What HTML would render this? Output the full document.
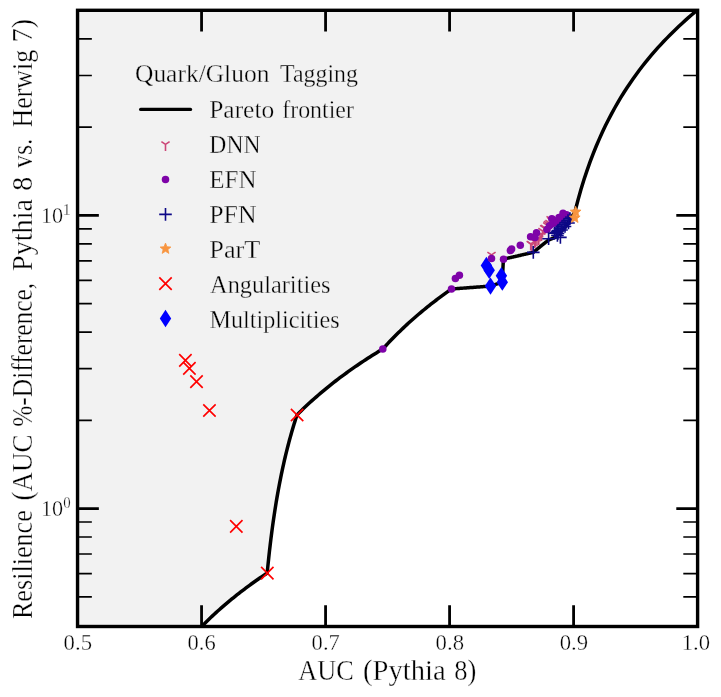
<!DOCTYPE html>
<html><head><meta charset="utf-8"><style>html,body{margin:0;padding:0;background:#fff;width:721px;height:697px;overflow:hidden}svg{display:block;will-change:transform}</style></head>
<body><svg width="721" height="697" viewBox="0 0 721 697">
<rect width="721" height="697" fill="#fff"/>
<defs><clipPath id="ax"><rect x="77.55" y="10.3" width="620.05" height="616.20"/></clipPath></defs>
<g clip-path="url(#ax)">
<path d="M77.55,10.3L77.55,631.5L196.60,631.63L198.36,629.78L200.13,627.96L201.89,626.16L203.66,624.39L205.42,622.64L207.19,620.92L208.95,619.22L210.72,617.54L212.48,615.89L214.25,614.25L216.01,612.64L217.78,611.05L219.54,609.47L221.31,607.92L223.07,606.38L224.84,604.86L226.60,603.36L228.37,601.88L230.13,600.42L231.90,598.97L233.66,597.54L235.43,596.12L237.19,594.72L238.96,593.33L240.72,591.96L242.49,590.61L244.25,589.27L246.02,587.94L247.78,586.62L249.55,585.32L251.31,584.04L253.08,582.76L254.84,581.50L256.61,580.25L258.37,579.01L260.14,577.79L261.90,576.57L263.67,575.37L265.43,574.18L267.20,573.00L267.94,565.40L268.69,558.22L269.43,551.43L270.18,544.98L270.92,538.85L271.67,532.99L272.41,527.39L273.16,522.03L273.90,516.89L274.65,511.94L275.39,507.18L276.14,502.59L276.88,498.16L277.63,493.88L278.37,489.74L279.12,485.73L279.86,481.84L280.61,478.07L281.35,474.41L282.10,470.84L282.84,467.38L283.59,464.01L284.33,460.72L285.08,457.52L285.82,454.39L286.57,451.34L287.31,448.36L288.06,445.45L288.81,442.61L289.55,439.82L290.30,437.10L291.04,434.43L291.79,431.82L292.53,429.26L293.27,426.75L294.02,424.29L294.76,421.88L295.51,419.51L296.25,417.18L297.00,414.90L299.14,412.76L301.29,410.66L303.43,408.59L305.58,406.55L307.72,404.54L309.87,402.57L312.01,400.63L314.16,398.71L316.31,396.82L318.45,394.97L320.60,393.13L322.74,391.33L324.89,389.55L327.03,387.79L329.17,386.06L331.32,384.35L333.46,382.66L335.61,381.00L337.75,379.36L339.90,377.73L342.05,376.13L344.19,374.55L346.34,372.99L348.48,371.44L350.63,369.92L352.77,368.41L354.91,366.92L357.06,365.45L359.20,364.00L361.35,362.56L363.50,361.14L365.64,359.73L367.79,358.34L369.93,356.96L372.08,355.60L374.22,354.25L376.37,352.92L378.51,351.60L380.66,350.29L382.80,349.00L384.52,347.10L386.24,345.22L387.95,343.38L389.67,341.56L391.39,339.76L393.11,337.99L394.82,336.25L396.54,334.53L398.26,332.83L399.98,331.15L401.69,329.50L403.41,327.86L405.13,326.25L406.85,324.66L408.56,323.08L410.28,321.53L412.00,320.00L413.72,318.48L415.43,316.98L417.15,315.50L418.87,314.03L420.58,312.59L422.30,311.15L424.02,309.74L425.74,308.34L427.45,306.95L429.17,305.58L430.89,304.23L432.61,302.89L434.32,301.56L436.04,300.25L437.76,298.95L439.48,297.66L441.19,296.39L442.91,295.13L444.63,293.88L446.35,292.64L448.06,291.42L449.78,290.20L451.50,289.00L452.48,288.93L453.45,288.85L454.43,288.78L455.40,288.71L456.38,288.63L457.35,288.56L458.32,288.49L459.30,288.41L460.27,288.34L461.25,288.27L462.22,288.20L463.20,288.12L464.18,288.05L465.15,287.98L466.12,287.90L467.10,287.83L468.07,287.76L469.05,287.69L470.02,287.61L471.00,287.54L471.97,287.47L472.95,287.40L473.93,287.32L474.90,287.25L475.88,287.18L476.85,287.11L477.82,287.04L478.80,286.96L479.77,286.89L480.75,286.82L481.72,286.75L482.70,286.67L483.67,286.60L484.65,286.53L485.62,286.46L486.60,286.39L487.57,286.32L488.55,286.24L489.52,286.17L490.50,286.10L490.79,286.00L491.09,285.90L491.38,285.80L491.68,285.70L491.97,285.60L492.27,285.50L492.56,285.40L492.86,285.30L493.15,285.20L493.45,285.10L493.74,285.00L494.04,284.90L494.33,284.80L494.63,284.70L494.92,284.60L495.22,284.51L495.51,284.41L495.81,284.31L496.10,284.21L496.40,284.11L496.69,284.01L496.99,283.91L497.28,283.81L497.58,283.72L497.88,283.62L498.17,283.52L498.46,283.42L498.76,283.32L499.06,283.22L499.35,283.13L499.64,283.03L499.94,282.93L500.23,282.83L500.53,282.73L500.82,282.64L501.12,282.54L501.41,282.44L501.71,282.34L502.00,282.25L502.30,282.15L502.33,281.52L502.35,280.90L502.38,280.28L502.41,279.66L502.44,279.04L502.47,278.43L502.49,277.82L502.52,277.22L502.55,276.61L502.57,276.01L502.60,275.42L502.63,274.82L502.66,274.23L502.68,273.64L502.71,273.05L502.74,272.47L502.77,271.89L502.80,271.31L502.82,270.73L502.85,270.16L502.88,269.59L502.90,269.02L502.93,268.45L502.96,267.89L502.99,267.33L503.02,266.77L503.04,266.21L503.07,265.66L503.10,265.11L503.12,264.56L503.15,264.02L503.18,263.47L503.21,262.93L503.23,262.39L503.26,261.85L503.29,261.32L503.32,260.78L503.35,260.25L503.37,259.73L503.40,259.20L504.15,259.03L504.90,258.85L505.64,258.68L506.39,258.50L507.14,258.33L507.88,258.16L508.63,257.98L509.38,257.81L510.13,257.64L510.88,257.47L511.62,257.29L512.37,257.12L513.12,256.95L513.87,256.78L514.61,256.61L515.36,256.44L516.11,256.27L516.85,256.09L517.60,255.92L518.35,255.75L519.10,255.58L519.85,255.42L520.59,255.25L521.34,255.08L522.09,254.91L522.83,254.74L523.58,254.57L524.33,254.40L525.08,254.23L525.82,254.07L526.57,253.90L527.32,253.73L528.07,253.56L528.82,253.40L529.56,253.23L530.31,253.06L531.06,252.90L531.80,252.73L532.55,252.57L533.30,252.40L533.68,252.08L534.06,251.76L534.44,251.44L534.82,251.12L535.20,250.80L535.58,250.48L535.96,250.16L536.34,249.84L536.72,249.53L537.10,249.21L537.48,248.90L537.86,248.58L538.24,248.27L538.62,247.96L539.00,247.65L539.38,247.34L539.76,247.03L540.14,246.72L540.52,246.41L540.90,246.10L541.28,245.79L541.66,245.49L542.04,245.18L542.42,244.88L542.80,244.57L543.18,244.27L543.56,243.97L543.94,243.67L544.32,243.37L544.70,243.07L545.08,242.77L545.46,242.47L545.84,242.17L546.22,241.87L546.60,241.57L546.98,241.28L547.36,240.98L547.74,240.69L548.12,240.39L548.50,240.10L548.69,240.02L548.88,239.94L549.06,239.86L549.25,239.79L549.44,239.71L549.62,239.63L549.81,239.55L550.00,239.47L550.19,239.40L550.37,239.32L550.56,239.24L550.75,239.16L550.94,239.08L551.12,239.01L551.31,238.93L551.50,238.85L551.69,238.77L551.88,238.70L552.06,238.62L552.25,238.54L552.44,238.46L552.62,238.39L552.81,238.31L553.00,238.23L553.19,238.15L553.37,238.08L553.56,238.00L553.75,237.92L553.94,237.85L554.12,237.77L554.31,237.69L554.50,237.61L554.69,237.54L554.88,237.46L555.06,237.38L555.25,237.31L555.44,237.23L555.62,237.15L555.81,237.08L556.00,237.00L556.25,236.71L556.50,236.43L556.75,236.14L557.00,235.86L557.25,235.57L557.50,235.29L557.75,235.01L558.00,234.72L558.25,234.44L558.50,234.16L558.75,233.88L559.00,233.60L559.25,233.32L559.50,233.04L559.75,232.76L560.00,232.49L560.25,232.21L560.50,231.93L560.75,231.66L561.00,231.38L561.25,231.11L561.50,230.83L561.75,230.56L562.00,230.29L562.25,230.01L562.50,229.74L562.75,229.47L563.00,229.20L563.25,228.93L563.50,228.66L563.75,228.39L564.00,228.13L564.25,227.86L564.50,227.59L564.75,227.32L565.00,227.06L565.25,226.79L565.50,226.53L565.75,226.26L566.00,226.00L566.22,225.64L566.44,225.28L566.66,224.92L566.88,224.56L567.10,224.20L567.32,223.85L567.54,223.49L567.76,223.14L567.98,222.79L568.20,222.43L568.42,222.08L568.64,221.73L568.86,221.38L569.08,221.04L569.30,220.69L569.52,220.34L569.74,220.00L569.96,219.65L570.18,219.31L570.40,218.97L570.62,218.62L570.84,218.28L571.06,217.94L571.28,217.60L571.50,217.27L571.72,216.93L571.94,216.59L572.16,216.26L572.38,215.92L572.60,215.59L572.82,215.26L573.04,214.92L573.26,214.59L573.48,214.26L573.70,213.93L573.92,213.61L574.14,213.28L574.36,212.95L574.58,212.63L574.80,212.30L577.87,200.44L580.94,189.59L584.01,179.60L587.08,170.33L590.15,161.69L593.22,153.60L596.29,146.00L599.36,138.82L602.43,132.02L605.50,125.57L608.57,119.43L611.64,113.58L614.71,107.98L617.78,102.61L620.85,97.47L623.92,92.52L626.99,87.76L630.06,83.17L633.13,78.74L636.20,74.46L639.27,70.32L642.34,66.31L645.41,62.42L648.48,58.64L651.55,54.98L654.62,51.42L657.69,47.95L660.76,44.58L663.83,41.29L666.90,38.09L669.97,34.96L673.04,31.91L676.11,28.93L679.18,26.02L682.25,23.17L685.32,20.39L688.39,17.67L691.46,15.00L694.53,12.39L697.60,9.83L697.6,5.300000000000001Z" fill="#f2f2f2"/>
<path d="M196.60,631.63L198.36,629.78L200.13,627.96L201.89,626.16L203.66,624.39L205.42,622.64L207.19,620.92L208.95,619.22L210.72,617.54L212.48,615.89L214.25,614.25L216.01,612.64L217.78,611.05L219.54,609.47L221.31,607.92L223.07,606.38L224.84,604.86L226.60,603.36L228.37,601.88L230.13,600.42L231.90,598.97L233.66,597.54L235.43,596.12L237.19,594.72L238.96,593.33L240.72,591.96L242.49,590.61L244.25,589.27L246.02,587.94L247.78,586.62L249.55,585.32L251.31,584.04L253.08,582.76L254.84,581.50L256.61,580.25L258.37,579.01L260.14,577.79L261.90,576.57L263.67,575.37L265.43,574.18L267.20,573.00L267.94,565.40L268.69,558.22L269.43,551.43L270.18,544.98L270.92,538.85L271.67,532.99L272.41,527.39L273.16,522.03L273.90,516.89L274.65,511.94L275.39,507.18L276.14,502.59L276.88,498.16L277.63,493.88L278.37,489.74L279.12,485.73L279.86,481.84L280.61,478.07L281.35,474.41L282.10,470.84L282.84,467.38L283.59,464.01L284.33,460.72L285.08,457.52L285.82,454.39L286.57,451.34L287.31,448.36L288.06,445.45L288.81,442.61L289.55,439.82L290.30,437.10L291.04,434.43L291.79,431.82L292.53,429.26L293.27,426.75L294.02,424.29L294.76,421.88L295.51,419.51L296.25,417.18L297.00,414.90L299.14,412.76L301.29,410.66L303.43,408.59L305.58,406.55L307.72,404.54L309.87,402.57L312.01,400.63L314.16,398.71L316.31,396.82L318.45,394.97L320.60,393.13L322.74,391.33L324.89,389.55L327.03,387.79L329.17,386.06L331.32,384.35L333.46,382.66L335.61,381.00L337.75,379.36L339.90,377.73L342.05,376.13L344.19,374.55L346.34,372.99L348.48,371.44L350.63,369.92L352.77,368.41L354.91,366.92L357.06,365.45L359.20,364.00L361.35,362.56L363.50,361.14L365.64,359.73L367.79,358.34L369.93,356.96L372.08,355.60L374.22,354.25L376.37,352.92L378.51,351.60L380.66,350.29L382.80,349.00L384.52,347.10L386.24,345.22L387.95,343.38L389.67,341.56L391.39,339.76L393.11,337.99L394.82,336.25L396.54,334.53L398.26,332.83L399.98,331.15L401.69,329.50L403.41,327.86L405.13,326.25L406.85,324.66L408.56,323.08L410.28,321.53L412.00,320.00L413.72,318.48L415.43,316.98L417.15,315.50L418.87,314.03L420.58,312.59L422.30,311.15L424.02,309.74L425.74,308.34L427.45,306.95L429.17,305.58L430.89,304.23L432.61,302.89L434.32,301.56L436.04,300.25L437.76,298.95L439.48,297.66L441.19,296.39L442.91,295.13L444.63,293.88L446.35,292.64L448.06,291.42L449.78,290.20L451.50,289.00L452.48,288.93L453.45,288.85L454.43,288.78L455.40,288.71L456.38,288.63L457.35,288.56L458.32,288.49L459.30,288.41L460.27,288.34L461.25,288.27L462.22,288.20L463.20,288.12L464.18,288.05L465.15,287.98L466.12,287.90L467.10,287.83L468.07,287.76L469.05,287.69L470.02,287.61L471.00,287.54L471.97,287.47L472.95,287.40L473.93,287.32L474.90,287.25L475.88,287.18L476.85,287.11L477.82,287.04L478.80,286.96L479.77,286.89L480.75,286.82L481.72,286.75L482.70,286.67L483.67,286.60L484.65,286.53L485.62,286.46L486.60,286.39L487.57,286.32L488.55,286.24L489.52,286.17L490.50,286.10L490.79,286.00L491.09,285.90L491.38,285.80L491.68,285.70L491.97,285.60L492.27,285.50L492.56,285.40L492.86,285.30L493.15,285.20L493.45,285.10L493.74,285.00L494.04,284.90L494.33,284.80L494.63,284.70L494.92,284.60L495.22,284.51L495.51,284.41L495.81,284.31L496.10,284.21L496.40,284.11L496.69,284.01L496.99,283.91L497.28,283.81L497.58,283.72L497.88,283.62L498.17,283.52L498.46,283.42L498.76,283.32L499.06,283.22L499.35,283.13L499.64,283.03L499.94,282.93L500.23,282.83L500.53,282.73L500.82,282.64L501.12,282.54L501.41,282.44L501.71,282.34L502.00,282.25L502.30,282.15L502.33,281.52L502.35,280.90L502.38,280.28L502.41,279.66L502.44,279.04L502.47,278.43L502.49,277.82L502.52,277.22L502.55,276.61L502.57,276.01L502.60,275.42L502.63,274.82L502.66,274.23L502.68,273.64L502.71,273.05L502.74,272.47L502.77,271.89L502.80,271.31L502.82,270.73L502.85,270.16L502.88,269.59L502.90,269.02L502.93,268.45L502.96,267.89L502.99,267.33L503.02,266.77L503.04,266.21L503.07,265.66L503.10,265.11L503.12,264.56L503.15,264.02L503.18,263.47L503.21,262.93L503.23,262.39L503.26,261.85L503.29,261.32L503.32,260.78L503.35,260.25L503.37,259.73L503.40,259.20L504.15,259.03L504.90,258.85L505.64,258.68L506.39,258.50L507.14,258.33L507.88,258.16L508.63,257.98L509.38,257.81L510.13,257.64L510.88,257.47L511.62,257.29L512.37,257.12L513.12,256.95L513.87,256.78L514.61,256.61L515.36,256.44L516.11,256.27L516.85,256.09L517.60,255.92L518.35,255.75L519.10,255.58L519.85,255.42L520.59,255.25L521.34,255.08L522.09,254.91L522.83,254.74L523.58,254.57L524.33,254.40L525.08,254.23L525.82,254.07L526.57,253.90L527.32,253.73L528.07,253.56L528.82,253.40L529.56,253.23L530.31,253.06L531.06,252.90L531.80,252.73L532.55,252.57L533.30,252.40L533.68,252.08L534.06,251.76L534.44,251.44L534.82,251.12L535.20,250.80L535.58,250.48L535.96,250.16L536.34,249.84L536.72,249.53L537.10,249.21L537.48,248.90L537.86,248.58L538.24,248.27L538.62,247.96L539.00,247.65L539.38,247.34L539.76,247.03L540.14,246.72L540.52,246.41L540.90,246.10L541.28,245.79L541.66,245.49L542.04,245.18L542.42,244.88L542.80,244.57L543.18,244.27L543.56,243.97L543.94,243.67L544.32,243.37L544.70,243.07L545.08,242.77L545.46,242.47L545.84,242.17L546.22,241.87L546.60,241.57L546.98,241.28L547.36,240.98L547.74,240.69L548.12,240.39L548.50,240.10L548.69,240.02L548.88,239.94L549.06,239.86L549.25,239.79L549.44,239.71L549.62,239.63L549.81,239.55L550.00,239.47L550.19,239.40L550.37,239.32L550.56,239.24L550.75,239.16L550.94,239.08L551.12,239.01L551.31,238.93L551.50,238.85L551.69,238.77L551.88,238.70L552.06,238.62L552.25,238.54L552.44,238.46L552.62,238.39L552.81,238.31L553.00,238.23L553.19,238.15L553.37,238.08L553.56,238.00L553.75,237.92L553.94,237.85L554.12,237.77L554.31,237.69L554.50,237.61L554.69,237.54L554.88,237.46L555.06,237.38L555.25,237.31L555.44,237.23L555.62,237.15L555.81,237.08L556.00,237.00L556.25,236.71L556.50,236.43L556.75,236.14L557.00,235.86L557.25,235.57L557.50,235.29L557.75,235.01L558.00,234.72L558.25,234.44L558.50,234.16L558.75,233.88L559.00,233.60L559.25,233.32L559.50,233.04L559.75,232.76L560.00,232.49L560.25,232.21L560.50,231.93L560.75,231.66L561.00,231.38L561.25,231.11L561.50,230.83L561.75,230.56L562.00,230.29L562.25,230.01L562.50,229.74L562.75,229.47L563.00,229.20L563.25,228.93L563.50,228.66L563.75,228.39L564.00,228.13L564.25,227.86L564.50,227.59L564.75,227.32L565.00,227.06L565.25,226.79L565.50,226.53L565.75,226.26L566.00,226.00L566.22,225.64L566.44,225.28L566.66,224.92L566.88,224.56L567.10,224.20L567.32,223.85L567.54,223.49L567.76,223.14L567.98,222.79L568.20,222.43L568.42,222.08L568.64,221.73L568.86,221.38L569.08,221.04L569.30,220.69L569.52,220.34L569.74,220.00L569.96,219.65L570.18,219.31L570.40,218.97L570.62,218.62L570.84,218.28L571.06,217.94L571.28,217.60L571.50,217.27L571.72,216.93L571.94,216.59L572.16,216.26L572.38,215.92L572.60,215.59L572.82,215.26L573.04,214.92L573.26,214.59L573.48,214.26L573.70,213.93L573.92,213.61L574.14,213.28L574.36,212.95L574.58,212.63L574.80,212.30L577.87,200.44L580.94,189.59L584.01,179.60L587.08,170.33L590.15,161.69L593.22,153.60L596.29,146.00L599.36,138.82L602.43,132.02L605.50,125.57L608.57,119.43L611.64,113.58L614.71,107.98L617.78,102.61L620.85,97.47L623.92,92.52L626.99,87.76L630.06,83.17L633.13,78.74L636.20,74.46L639.27,70.32L642.34,66.31L645.41,62.42L648.48,58.64L651.55,54.98L654.62,51.42L657.69,47.95L660.76,44.58L663.83,41.29L666.90,38.09L669.97,34.96L673.04,31.91L676.11,28.93L679.18,26.02L682.25,23.17L685.32,20.39L688.39,17.67L691.46,15.00L694.53,12.39L697.60,9.83" stroke="#000" stroke-width="3.5" fill="none" stroke-linejoin="round"/>
<path d="M179.20,354.20L191.60,366.60M179.20,366.60L191.60,354.20" stroke="#ff0000" stroke-width="1.65" fill="none"/>
<path d="M183.20,362.20L195.60,374.60M183.20,374.60L195.60,362.20" stroke="#ff0000" stroke-width="1.65" fill="none"/>
<path d="M190.30,375.40L202.70,387.80M190.30,387.80L202.70,375.40" stroke="#ff0000" stroke-width="1.65" fill="none"/>
<path d="M203.25,404.30L215.65,416.70M203.25,416.70L215.65,404.30" stroke="#ff0000" stroke-width="1.65" fill="none"/>
<path d="M230.10,520.20L242.50,532.60M230.10,532.60L242.50,520.20" stroke="#ff0000" stroke-width="1.65" fill="none"/>
<path d="M261.10,566.90L273.50,579.30M261.10,579.30L273.50,566.90" stroke="#ff0000" stroke-width="1.65" fill="none"/>
<path d="M290.90,408.80L303.30,421.20M290.90,421.20L303.30,408.80" stroke="#ff0000" stroke-width="1.65" fill="none"/>
<path d="M486.40,256.80L492.10,265.50L486.40,274.20L480.70,265.50Z" fill="#0000ff"/>
<path d="M489.20,261.50L494.90,270.20L489.20,278.90L483.50,270.20Z" fill="#0000ff"/>
<path d="M490.50,277.40L496.20,286.10L490.50,294.80L484.80,286.10Z" fill="#0000ff"/>
<path d="M501.40,267.05L507.10,275.75L501.40,284.45L495.70,275.75Z" fill="#0000ff"/>
<path d="M502.30,273.45L508.00,282.15L502.30,290.85L496.60,282.15Z" fill="#0000ff"/>
<path d="M491.50,254.90V261.40M491.50,254.90L487.40,252.10M491.50,254.90L495.60,252.10" stroke="#cc4778" stroke-width="1.6" fill="none"/>
<path d="M530.70,244.00V250.50M530.70,244.00L526.60,241.20M530.70,244.00L534.80,241.20" stroke="#cc4778" stroke-width="1.6" fill="none"/>
<path d="M531.90,244.60V251.10M531.90,244.60L527.80,241.80M531.90,244.60L536.00,241.80" stroke="#cc4778" stroke-width="1.6" fill="none"/>
<path d="M534.50,241.50V248.00M534.50,241.50L530.40,238.70M534.50,241.50L538.60,238.70" stroke="#cc4778" stroke-width="1.6" fill="none"/>
<path d="M538.80,238.60V245.10M538.80,238.60L534.70,235.80M538.80,238.60L542.90,235.80" stroke="#cc4778" stroke-width="1.6" fill="none"/>
<path d="M541.50,234.50V241.00M541.50,234.50L537.40,231.70M541.50,234.50L545.60,231.70" stroke="#cc4778" stroke-width="1.6" fill="none"/>
<path d="M544.10,228.20V234.70M544.10,228.20L540.00,225.40M544.10,228.20L548.20,225.40" stroke="#cc4778" stroke-width="1.6" fill="none"/>
<path d="M547.30,225.30V231.80M547.30,225.30L543.20,222.50M547.30,225.30L551.40,222.50" stroke="#cc4778" stroke-width="1.6" fill="none"/>
<path d="M549.50,223.00V229.50M549.50,223.00L545.40,220.20M549.50,223.00L553.60,220.20" stroke="#cc4778" stroke-width="1.6" fill="none"/>
<path d="M550.60,219.20V225.70M550.60,219.20L546.50,216.40M550.60,219.20L554.70,216.40" stroke="#cc4778" stroke-width="1.6" fill="none"/>
<path d="M551.50,220.50V227.00M551.50,220.50L547.40,217.70M551.50,220.50L555.60,217.70" stroke="#cc4778" stroke-width="1.6" fill="none"/>
<path d="M548.00,224.00V230.50M548.00,224.00L543.90,221.20M548.00,224.00L552.10,221.20" stroke="#cc4778" stroke-width="1.6" fill="none"/>
<path d="M545.00,228.00V234.50M545.00,228.00L540.90,225.20M545.00,228.00L549.10,225.20" stroke="#cc4778" stroke-width="1.6" fill="none"/>
<path d="M542.50,231.00V237.50M542.50,231.00L538.40,228.20M542.50,231.00L546.60,228.20" stroke="#cc4778" stroke-width="1.6" fill="none"/>
<path d="M540.00,235.00V241.50M540.00,235.00L535.90,232.20M540.00,235.00L544.10,232.20" stroke="#cc4778" stroke-width="1.6" fill="none"/>
<path d="M537.00,239.50V246.00M537.00,239.50L532.90,236.70M537.00,239.50L541.10,236.70" stroke="#cc4778" stroke-width="1.6" fill="none"/>
<path d="M535.50,241.00V247.50M535.50,241.00L531.40,238.20M535.50,241.00L539.60,238.20" stroke="#cc4778" stroke-width="1.6" fill="none"/>
<circle cx="382.80" cy="349.00" r="3.75" fill="#7e03a8"/>
<circle cx="451.50" cy="289.00" r="3.75" fill="#7e03a8"/>
<circle cx="455.40" cy="278.40" r="3.75" fill="#7e03a8"/>
<circle cx="459.40" cy="275.30" r="3.75" fill="#7e03a8"/>
<circle cx="491.50" cy="258.40" r="3.75" fill="#7e03a8"/>
<circle cx="503.50" cy="259.30" r="3.75" fill="#7e03a8"/>
<circle cx="510.40" cy="250.60" r="3.75" fill="#7e03a8"/>
<circle cx="511.60" cy="249.00" r="3.75" fill="#7e03a8"/>
<circle cx="520.30" cy="245.30" r="3.75" fill="#7e03a8"/>
<circle cx="530.60" cy="236.70" r="3.75" fill="#7e03a8"/>
<circle cx="536.50" cy="232.80" r="3.75" fill="#7e03a8"/>
<circle cx="535.00" cy="237.50" r="3.75" fill="#7e03a8"/>
<circle cx="547.00" cy="229.50" r="3.75" fill="#7e03a8"/>
<circle cx="551.80" cy="218.80" r="3.75" fill="#7e03a8"/>
<circle cx="555.50" cy="221.00" r="3.75" fill="#7e03a8"/>
<circle cx="559.00" cy="217.40" r="3.75" fill="#7e03a8"/>
<circle cx="563.00" cy="213.30" r="3.75" fill="#7e03a8"/>
<circle cx="566.50" cy="214.80" r="3.75" fill="#7e03a8"/>
<circle cx="549.50" cy="225.80" r="3.75" fill="#7e03a8"/>
<circle cx="553.00" cy="223.50" r="3.75" fill="#7e03a8"/>
<circle cx="557.00" cy="222.50" r="3.75" fill="#7e03a8"/>
<circle cx="561.00" cy="219.00" r="3.75" fill="#7e03a8"/>
<path d="M527.00,252.40H539.60M533.30,246.10V258.70" stroke="#0d0887" stroke-width="1.6" fill="none"/>
<path d="M542.30,238.80H554.90M548.60,232.50V245.10" stroke="#0d0887" stroke-width="1.6" fill="none"/>
<path d="M548.20,233.30H560.80M554.50,227.00V239.60" stroke="#0d0887" stroke-width="1.6" fill="none"/>
<path d="M551.10,231.50H563.70M557.40,225.20V237.80" stroke="#0d0887" stroke-width="1.6" fill="none"/>
<path d="M554.10,237.40H566.70M560.40,231.10V243.70" stroke="#0d0887" stroke-width="1.6" fill="none"/>
<path d="M551.10,235.50H563.70M557.40,229.20V241.80" stroke="#0d0887" stroke-width="1.6" fill="none"/>
<path d="M549.70,232.50H562.30M556.00,226.20V238.80" stroke="#0d0887" stroke-width="1.6" fill="none"/>
<path d="M551.70,230.50H564.30M558.00,224.20V236.80" stroke="#0d0887" stroke-width="1.6" fill="none"/>
<path d="M553.70,228.50H566.30M560.00,222.20V234.80" stroke="#0d0887" stroke-width="1.6" fill="none"/>
<path d="M555.70,226.50H568.30M562.00,220.20V232.80" stroke="#0d0887" stroke-width="1.6" fill="none"/>
<path d="M557.70,224.50H570.30M564.00,218.20V230.80" stroke="#0d0887" stroke-width="1.6" fill="none"/>
<path d="M559.70,222.50H572.30M566.00,216.20V228.80" stroke="#0d0887" stroke-width="1.6" fill="none"/>
<path d="M561.70,220.50H574.30M568.00,214.20V226.80" stroke="#0d0887" stroke-width="1.6" fill="none"/>
<path d="M563.70,218.50H576.30M570.00,212.20V224.80" stroke="#0d0887" stroke-width="1.6" fill="none"/>
<path d="M551.70,233.50H564.30M558.00,227.20V239.80" stroke="#0d0887" stroke-width="1.6" fill="none"/>
<path d="M555.20,230.00H567.80M561.50,223.70V236.30" stroke="#0d0887" stroke-width="1.6" fill="none"/>
<path d="M558.70,226.50H571.30M565.00,220.20V232.80" stroke="#0d0887" stroke-width="1.6" fill="none"/>
<path d="M562.20,223.00H574.80M568.50,216.70V229.30" stroke="#0d0887" stroke-width="1.6" fill="none"/>
<polygon points="575.60,206.20 577.07,209.87 581.02,210.14 577.99,212.68 578.95,216.51 575.60,214.41 572.25,216.51 573.21,212.68 570.18,210.14 574.13,209.87" fill="#f89540" stroke="#f89540" stroke-width="0.8" stroke-linejoin="round"/>
<polygon points="574.70,212.20 576.17,215.87 580.12,216.14 577.09,218.68 578.05,222.51 574.70,220.41 571.35,222.51 572.31,218.68 569.28,216.14 573.23,215.87" fill="#f89540" stroke="#f89540" stroke-width="0.8" stroke-linejoin="round"/>
</g>
<text transform="translate(136.00,81.80) scale(0.9762,1) translate(-1.04,0)" font-family="Liberation Serif" font-size="26.10" fill="#000" stroke="#f2f2f2" stroke-width="0.35">Quark/Gluon</text>
<text transform="translate(280.50,81.80) scale(0.9150,1) translate(-0.52,0)" font-family="Liberation Serif" font-size="26.10" fill="#000" stroke="#f2f2f2" stroke-width="0.35">Tagging</text>
<path d="M140.7,109.4H190.5" stroke="#000" stroke-width="3.3" stroke-linecap="round"/>
<text transform="translate(209.90,118.05) scale(0.9771,1) translate(-0.78,0)" font-family="Liberation Serif" font-size="26.10" fill="#000" stroke="#f2f2f2" stroke-width="0.35">Pareto</text>
<text transform="translate(283.00,118.05) scale(0.9151,1) translate(-0.78,0)" font-family="Liberation Serif" font-size="26.10" fill="#000" stroke="#f2f2f2" stroke-width="0.35">frontier</text>
<text transform="translate(210.05,153.10) scale(0.9052,1) translate(-0.78,0)" font-family="Liberation Serif" font-size="26.10" fill="#000" stroke="#f2f2f2" stroke-width="0.35">DNN</text>
<text transform="translate(210.05,188.25) scale(0.9568,1) translate(-0.78,0)" font-family="Liberation Serif" font-size="26.10" fill="#000" stroke="#f2f2f2" stroke-width="0.35">EFN</text>
<text transform="translate(210.05,223.10) scale(0.9891,1) translate(-0.78,0)" font-family="Liberation Serif" font-size="26.10" fill="#000" stroke="#f2f2f2" stroke-width="0.35">PFN</text>
<text transform="translate(210.05,258.25) scale(1.0093,1) translate(-0.78,0)" font-family="Liberation Serif" font-size="26.10" fill="#000" stroke="#f2f2f2" stroke-width="0.35">ParT</text>
<text transform="translate(210.30,293.30) scale(0.9336,1) translate(-0.26,0)" font-family="Liberation Serif" font-size="26.10" fill="#000" stroke="#f2f2f2" stroke-width="0.35">Angularities</text>
<text transform="translate(210.30,328.35) scale(0.9254,1) translate(-0.78,0)" font-family="Liberation Serif" font-size="26.10" fill="#000" stroke="#f2f2f2" stroke-width="0.35">Multiplicities</text>
<path d="M165.50,144.40V150.90M165.50,144.40L161.40,141.60M165.50,144.40L169.60,141.60" stroke="#cc4778" stroke-width="1.6" fill="none"/>
<circle cx="165.50" cy="179.60" r="3.75" fill="#7e03a8"/>
<path d="M159.20,214.40H171.80M165.50,208.10V220.70" stroke="#0d0887" stroke-width="1.6" fill="none"/>
<polygon points="165.50,243.10 166.97,246.77 170.92,247.04 167.89,249.58 168.85,253.41 165.50,251.31 162.15,253.41 163.11,249.58 160.08,247.04 164.03,246.77" fill="#f89540" stroke="#f89540" stroke-width="0.8" stroke-linejoin="round"/>
<path d="M159.30,277.40L171.70,289.80M159.30,289.80L171.70,277.40" stroke="#ff0000" stroke-width="1.65" fill="none"/>
<path d="M165.50,309.80L171.20,318.50L165.50,327.20L159.80,318.50Z" fill="#0000ff"/>
<path d="M201.56,626.50V605.20M201.56,10.30V31.60M325.57,626.50V605.20M325.57,10.30V31.60M449.58,626.50V605.20M449.58,10.30V31.60M573.59,626.50V605.20M573.59,10.30V31.60M77.55,508.60H98.85M697.60,508.60H676.30M77.55,215.40H98.85M697.60,215.40H676.30" stroke="#000" stroke-width="2.8" fill="none"/>
<path d="M77.55,596.86H91.85M697.60,596.86H683.30M77.55,573.65H91.85M697.60,573.65H683.30M77.55,554.02H91.85M697.60,554.02H683.30M77.55,537.01H91.85M697.60,537.01H683.30M77.55,522.02H91.85M697.60,522.02H683.30M77.55,420.34H91.85M697.60,420.34H683.30M77.55,368.71H91.85M697.60,368.71H683.30M77.55,332.08H91.85M697.60,332.08H683.30M77.55,303.66H91.85M697.60,303.66H683.30M77.55,280.45H91.85M697.60,280.45H683.30M77.55,260.82H91.85M697.60,260.82H683.30M77.55,243.81H91.85M697.60,243.81H683.30M77.55,228.82H91.85M697.60,228.82H683.30M77.55,127.14H91.85M697.60,127.14H683.30M77.55,75.51H91.85M697.60,75.51H683.30M77.55,38.88H91.85M697.60,38.88H683.30" stroke="#000" stroke-width="1.7" fill="none"/>
<rect x="77.55" y="10.3" width="620.05" height="616.20" fill="none" stroke="#000" stroke-width="3.4" stroke-linejoin="miter"/>
<text transform="translate(64.50,650.20) scale(0.2274,0.2299) translate(-4,-2)" font-family="Liberation Serif" font-size="100" fill="#000" stroke="#fff" stroke-width="1.539">0.5</text>
<text transform="translate(188.51,650.20) scale(0.2254,0.2299) translate(-4,-2)" font-family="Liberation Serif" font-size="100" fill="#000" stroke="#fff" stroke-width="1.553">0.6</text>
<text transform="translate(312.52,650.20) scale(0.2254,0.2299) translate(-4,-2)" font-family="Liberation Serif" font-size="100" fill="#000" stroke="#fff" stroke-width="1.553">0.7</text>
<text transform="translate(436.53,650.20) scale(0.2274,0.2299) translate(-4,-2)" font-family="Liberation Serif" font-size="100" fill="#000" stroke="#fff" stroke-width="1.539">0.8</text>
<text transform="translate(560.54,650.20) scale(0.2274,0.2299) translate(-4,-2)" font-family="Liberation Serif" font-size="100" fill="#000" stroke="#fff" stroke-width="1.539">0.9</text>
<text transform="translate(683.70,650.20) scale(0.2268,0.2265) translate(-9,-2)" font-family="Liberation Serif" font-size="100" fill="#000" stroke="#fff" stroke-width="1.545">1.0</text>
<text transform="translate(43.00,223.00) scale(0.2218,0.2235) translate(-9,-2)" font-family="Liberation Serif" font-size="100" fill="#000" stroke="#fff" stroke-width="1.578">10</text>
<text transform="translate(64.00,214.80) scale(0.1657,0.1652) translate(-9,0)" font-family="Liberation Serif" font-size="100" fill="#000" stroke="#fff" stroke-width="2.119">1</text>
<text transform="translate(43.00,516.20) scale(0.2218,0.2235) translate(-9,-2)" font-family="Liberation Serif" font-size="100" fill="#000" stroke="#fff" stroke-width="1.578">10</text>
<text transform="translate(63.75,508.00) scale(0.1488,0.1627) translate(-4,-2)" font-family="Liberation Serif" font-size="100" fill="#000" stroke="#fff" stroke-width="2.352">0</text>
<text transform="translate(298.60,679.80) scale(0.9081,1) translate(-0.29,0)" font-family="Liberation Serif" font-size="28.90" fill="#000" stroke="#fff" stroke-width="0.35">AUC</text>
<text transform="translate(364.20,679.80) scale(0.9905,1) translate(-1.16,0)" font-family="Liberation Serif" font-size="28.90" fill="#000" stroke="#fff" stroke-width="0.35">(Pythia</text>
<text transform="translate(455.40,679.80) scale(0.9181,1) translate(-1.16,0)" font-family="Liberation Serif" font-size="28.90" fill="#000" stroke="#fff" stroke-width="0.35">8)</text>
<text transform="translate(31.70,618.30) rotate(-90) scale(0.9056,1) translate(-0.87,0)" font-family="Liberation Serif" font-size="28.90" fill="#000" stroke="#fff" stroke-width="0.35">Resilience</text>
<text transform="translate(31.70,499.50) rotate(-90) scale(0.9350,1) translate(-1.16,0)" font-family="Liberation Serif" font-size="28.90" fill="#000" stroke="#fff" stroke-width="0.35">(AUC</text>
<text transform="translate(31.70,426.00) rotate(-90) scale(0.8781,1) translate(-0.87,0)" font-family="Liberation Serif" font-size="28.90" fill="#000" stroke="#fff" stroke-width="0.35">&#37;-Difference,</text>
<text transform="translate(31.70,270.20) rotate(-90) scale(0.9760,1) translate(-0.87,0)" font-family="Liberation Serif" font-size="28.90" fill="#000" stroke="#fff" stroke-width="0.35">Pythia</text>
<text transform="translate(31.70,189.60) rotate(-90) scale(0.9639,1) translate(-1.16,0)" font-family="Liberation Serif" font-size="28.90" fill="#000" stroke="#fff" stroke-width="0.35">8</text>
<text transform="translate(31.70,168.10) rotate(-90) scale(0.8990,1) translate(-0.00,0)" font-family="Liberation Serif" font-size="28.90" fill="#000" stroke="#fff" stroke-width="0.35">vs.</text>
<text transform="translate(31.70,126.70) rotate(-90) scale(0.8973,1) translate(-0.87,0)" font-family="Liberation Serif" font-size="28.90" fill="#000" stroke="#fff" stroke-width="0.35">Herwig</text>
<text transform="translate(31.70,40.20) rotate(-90) scale(0.9660,1) translate(-2.02,0)" font-family="Liberation Serif" font-size="28.90" fill="#000" stroke="#fff" stroke-width="0.35">7)</text>
</svg></body></html>
